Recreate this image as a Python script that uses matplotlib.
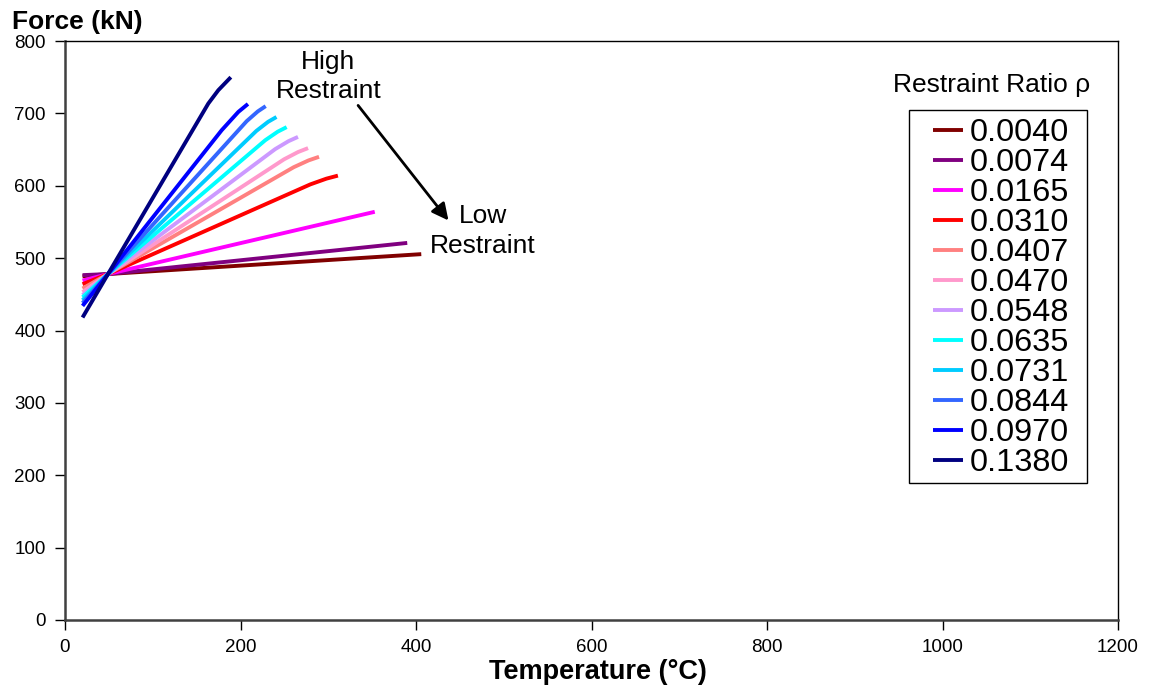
import numpy as np
import matplotlib.pyplot as plt
from matplotlib.patches import Rectangle

plt.rcParams['font.family'] = ['Liberation Sans', 'DejaVu Sans']

# restraint ratios and their line colours
ratios = ["0.0040", "0.0074", "0.0165", "0.0310", "0.0407", "0.0470",
          "0.0548", "0.0635", "0.0731", "0.0844", "0.0970", "0.1380"]
colors = ["#800000", "#800080", "#FF00FF", "#FF0000", "#FF8080", "#FF99CC",
          "#CC99FF", "#00FFFF", "#00CCFF", "#3366FF", "#0000FF", "#000080"]

# temperature (C) / force (kN)
temps = [
    [20, 49, 406],
    [20, 49, 390],
    [20, 49, 353],
    [20, 49, 279.6, 297.9, 311],
    [20, 49, 260.6, 277.5, 289.5],
    [20, 49, 249.6, 265.6, 277],
    [20, 49, 239.5, 254.7, 265.5],
    [20, 49, 228.2, 242.4, 252.6],
    [20, 49, 218.0, 231.4, 241],
    [20, 49, 207.1, 219.7, 228.7],
    [20, 49, 178.6, 197.5, 208.5],
    [20, 49, 163.3, 174.7, 189],
]
forces = [
    [475, 478, 505.5],
    [476.5, 478, 521],
    [469, 478, 564],
    [464, 478, 601.9, 609.8, 614],
    [458, 478, 625.6, 635.0, 640],
    [453, 478, 636.5, 646.6, 652],
    [449, 478, 650.6, 661.6, 667.5],
    [446, 478, 662.9, 674.7, 681],
    [442, 478, 675.7, 688.3, 695],
    [438, 478, 689.3, 702.7, 710],
    [434, 478, 676.8, 702, 713],
    [418, 478, 713.6, 732, 750],
]

fig = plt.figure(figsize=(11.52, 6.95), dpi=100)
ax = fig.add_axes([65/1152, 75/695, 1053/1152, 579/695])

for T, F, c, lab in zip(temps, forces, colors, ratios):
    ax.plot(T, F, color=c, lw=2.8, label=lab, solid_capstyle='butt',
            solid_joinstyle='round')

ax.set_xlim(0, 1200)
ax.set_ylim(0, 800)
ax.set_xticks(np.arange(0, 1201, 200))
ax.set_yticks(np.arange(0, 801, 100))
ax.tick_params(direction='out', length=7, width=1, labelsize=13.5, pad=7)

for s in ['left', 'bottom']:
    ax.spines[s].set_color('#404040')
    ax.spines[s].set_linewidth(1.8)
for s in ['top', 'right']:
    ax.spines[s].set_color('black')
    ax.spines[s].set_linewidth(1)

fig.text(12/1152, 1 - 22/695, "Force (kN)", fontsize=19, fontweight='bold',
         ha='left', va='center')
fig.text(598/1152, 1 - 672/695, "Temperature (°C)", fontsize=19.5,
         fontweight='bold', ha='center', va='center')

ax.text(300, 751, "High\nRestraint", fontsize=19, ha='center', va='center',
        linespacing=1.3)
ax.text(476, 537, "Low\nRestraint", fontsize=19, ha='center', va='center',
        linespacing=1.3)
ax.annotate("", xy=(437, 552), xytext=(334, 711),
            arrowprops=dict(arrowstyle='-|>', lw=2, color='black',
                            mutation_scale=25, shrinkA=0, shrinkB=0))

# legend: title above, box drawn separately
fig.text(992/1152, 1 - 85/695, "Restraint Ratio ρ", fontsize=19,
         ha='center', va='center')
fig.patches.append(Rectangle((909/1152, 1 - 483/695), 178/1152, 373/695,
                             transform=fig.transFigure, fill=False,
                             edgecolor='black', lw=1))
leg = ax.legend(loc='upper left', bbox_to_anchor=(933/1152, 1 - 118/695),
                bbox_transform=fig.transFigure, fontsize=23.4,
                frameon=False, handlelength=0.92, handletextpad=0.22,
                labelspacing=0, borderpad=0, borderaxespad=0)

fig.savefig("out.png", dpi=100)
